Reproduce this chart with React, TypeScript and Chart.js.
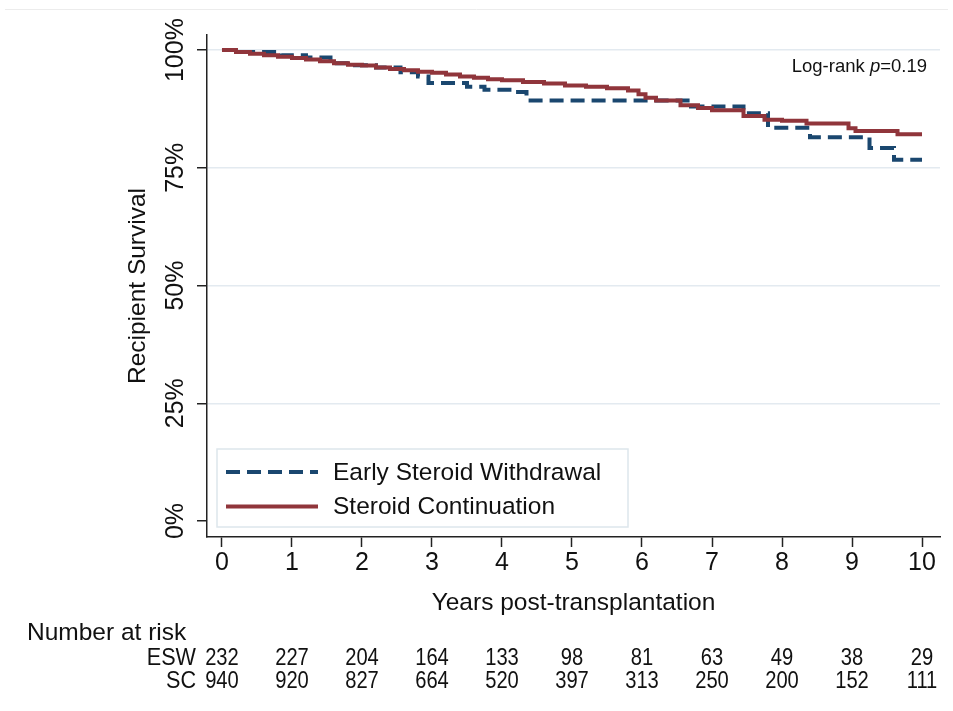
import React, { useEffect, useRef } from 'react';
import { Chart, registerables } from 'chart.js';

Chart.register(...registerables);

// ---- data ----
const seriesLabels = ['Early Steroid Withdrawal', 'Steroid Continuation'];
const eswTimes = [0, 0.25, 0.85, 1.2, 1.55, 1.9, 2.2, 2.55, 2.8, 2.95, 3.5, 3.75, 4.2, 4.35, 6.7, 7.45, 7.8, 8.4, 9.25, 9.6, 10.0];
const eswSurvival = [100, 99.6, 98.9, 98.4, 97.2, 96.8, 96.3, 95.3, 94.4, 93.0, 92.2, 91.6, 91.1, 89.3, 88.0, 86.6, 83.5, 81.5, 79.2, 76.7, 76.7];
const scTimes = [0, 0.2, 0.4, 0.6, 0.8, 1.0, 1.2, 1.4, 1.6, 1.8, 2.0, 2.2, 2.4, 2.6, 2.8, 3.0, 3.2, 3.4, 3.6, 3.8, 4.0, 4.3, 4.6, 4.9, 5.2, 5.5, 5.8, 5.95, 6.05, 6.2, 6.55, 6.8, 7.0, 7.45, 7.75, 8.0, 8.35, 8.95, 9.05, 9.65, 10.0];
const scSurvival = [100, 99.6, 99.2, 98.9, 98.6, 98.3, 98.0, 97.6, 97.2, 96.9, 96.7, 96.3, 96.0, 95.7, 95.4, 95.2, 94.8, 94.4, 94.1, 93.8, 93.6, 93.2, 92.9, 92.5, 92.2, 91.9, 91.4, 90.6, 89.9, 89.3, 88.3, 87.7, 87.2, 86.0, 85.2, 85.0, 84.4, 83.4, 82.8, 82.1, 82.1];
const xTickValues = [0, 1, 2, 3, 4, 5, 6, 7, 8, 9, 10];
const yTickValues = [0, 25, 50, 75, 100];
const riskYears = [0, 1, 2, 3, 4, 5, 6, 7, 8, 9, 10];
const riskRowLabels = ['ESW', 'SC'];
const eswAtRisk = [232, 227, 204, 164, 133, 98, 81, 63, 49, 38, 29];
const scAtRisk = [940, 920, 827, 664, 520, 397, 313, 250, 200, 152, 111];
const pValue = '0.19';

const FONT = "'Liberation Sans', Arial, Helvetica, sans-serif";
const INK = '#111111';
const AXIS = '#222222';
const BLUE = '#1a476f';
const RED = '#90353b';

export default function App() {
  const ref = useRef<HTMLCanvasElement>(null);

  useEffect(() => {
    document.body.style.margin = '0';
    const canvas = ref.current;
    if (!canvas) return;

    const extras = {
      id: 'kmExtras',
      beforeDraw(chart: any) {
        const ctx = chart.ctx;
        ctx.save();
        ctx.strokeStyle = '#ececec';
        ctx.lineWidth = 1;
        ctx.beginPath();
        ctx.moveTo(5, 9.5);
        ctx.lineTo(chart.width - 5, 9.5);
        ctx.stroke();
        ctx.restore();
      },
      afterDraw(chart: any) {
        const ctx = chart.ctx;
        const area = chart.chartArea;
        const xs = chart.scales.x;

        // legend box inside plot
        const boxL = area.left + 10;
        const boxB = area.bottom - 10;
        const boxW = 411;
        const boxH = 78;
        const boxT = boxB - boxH;
        ctx.save();
        ctx.fillStyle = '#ffffff';
        ctx.fillRect(boxL, boxT, boxW, boxH);
        ctx.strokeStyle = '#dde6ec';
        ctx.lineWidth = 1.5;
        ctx.strokeRect(boxL, boxT, boxW, boxH);
        chart.data.datasets.forEach((ds: any, i: number) => {
          const y = boxT + 23 + i * 34.5;
          ctx.save();
          ctx.strokeStyle = ds.borderColor;
          ctx.lineWidth = ds.borderWidth;
          ctx.setLineDash(ds.borderDash || []);
          ctx.lineCap = 'butt';
          ctx.beginPath();
          ctx.moveTo(boxL + 9, y);
          ctx.lineTo(boxL + 101, y);
          ctx.stroke();
          ctx.restore();
          ctx.fillStyle = INK;
          ctx.font = `24.5px ${FONT}`;
          ctx.textAlign = 'left';
          ctx.textBaseline = 'middle';
          ctx.fillText(ds.label, boxL + 116, y + 1);
        });
        ctx.restore();

        // log-rank annotation
        ctx.save();
        ctx.fillStyle = INK;
        ctx.textBaseline = 'alphabetic';
        ctx.textAlign = 'left';
        const normal = `18.5px ${FONT}`;
        const italic = `italic 18.5px ${FONT}`;
        const part1 = 'Log-rank ';
        const part2 = 'p';
        const part3 = '=' + pValue;
        ctx.font = normal;
        const w1 = ctx.measureText(part1).width;
        const w3 = ctx.measureText(part3).width;
        ctx.font = italic;
        const w2 = ctx.measureText(part2).width;
        const right = area.right - 13;
        const by = area.top + 37;
        let x = right - (w1 + w2 + w3);
        ctx.font = normal;
        ctx.fillText(part1, x, by);
        x += w1;
        ctx.font = italic;
        ctx.fillText(part2, x, by);
        x += w2;
        ctx.font = normal;
        ctx.fillText(part3, x, by);
        ctx.restore();

        // number at risk table
        ctx.save();
        ctx.fillStyle = INK;
        ctx.font = `24.5px ${FONT}`;
        ctx.textAlign = 'left';
        ctx.textBaseline = 'middle';
        ctx.fillText('Number at risk', 27, 633);
        const rows = [eswAtRisk, scAtRisk];
        const rowY = [658, 681];
        ctx.font = `24px ${FONT}`;
        rows.forEach((vals, r) => {
          const y = rowY[r];
          ctx.save();
          ctx.translate(196, y);
          ctx.scale(0.9, 1);
          ctx.textAlign = 'right';
          ctx.fillText(riskRowLabels[r], 0, 0);
          ctx.restore();
          vals.forEach((v, k) => {
            const px = xs.getPixelForValue(riskYears[k]);
            ctx.save();
            ctx.translate(px, y);
            ctx.scale(0.84, 1);
            ctx.textAlign = 'center';
            ctx.fillText(String(v), 0, 0);
            ctx.restore();
          });
        });
        ctx.restore();
      },
    };

    const chart = new Chart(canvas, {
      type: 'line',
      data: {
        datasets: [
          {
            label: seriesLabels[0],
            data: eswTimes.map((t, i) => ({ x: t, y: eswSurvival[i] })),
            borderColor: BLUE,
            backgroundColor: BLUE,
            borderWidth: 4,
            borderDash: [14, 7],
            borderCapStyle: 'butt',
            stepped: 'before',
            pointRadius: 0,
            fill: false,
            order: 1,
          },
          {
            label: seriesLabels[1],
            data: scTimes.map((t, i) => ({ x: t, y: scSurvival[i] })),
            borderColor: RED,
            backgroundColor: RED,
            borderWidth: 4,
            stepped: 'before',
            pointRadius: 0,
            fill: false,
            order: 0,
          },
        ],
      },
      options: {
        responsive: false,
        animation: false,
        devicePixelRatio: 1,
        layout: { padding: { left: 0, top: 35, right: 13, bottom: 93 } },
        plugins: {
          legend: { display: false },
          tooltip: { enabled: false },
        },
        scales: {
          x: {
            type: 'linear',
            min: -0.214,
            max: 10.257,
            afterBuildTicks: (s: any) => {
              s.ticks = xTickValues.map((v) => ({ value: v }));
            },
            afterFit: (s: any) => {
              s.height = 81;
            },
            border: { display: true, color: AXIS, width: 1.5 },
            grid: {
              drawOnChartArea: false,
              drawTicks: true,
              tickLength: 10,
              tickColor: AXIS,
              tickWidth: 1.5,
            },
            ticks: {
              color: INK,
              font: { family: FONT, size: 25 },
              padding: 1,
              maxRotation: 0,
              autoSkip: false,
            },
            title: {
              display: true,
              text: 'Years post-transplantation',
              color: INK,
              font: { family: FONT, size: 24.5 },
              padding: { top: 0, bottom: 0 },
            },
          },
          y: {
            type: 'linear',
            min: -3.4,
            max: 103.2,
            afterBuildTicks: (s: any) => {
              s.ticks = yTickValues.map((v) => ({ value: v }));
            },
            afterFit: (s: any) => {
              s.width = 207;
            },
            border: { display: true, color: AXIS, width: 1.5 },
            grid: {
              color: (c: any) => (c.tick && c.tick.value === 0 ? 'rgba(0,0,0,0)' : '#e3eaf0'),
              lineWidth: 1.5,
              drawTicks: true,
              tickLength: 10,
              tickColor: AXIS,
              tickWidth: 1.5,
            },
            ticks: {
              color: INK,
              font: { family: FONT, size: 25 },
              minRotation: 90,
              maxRotation: 90,
              crossAlign: 'center',
              padding: -11.5,
              autoSkip: false,
              callback: (v: any) => `${v}%`,
            },
            title: {
              display: true,
              text: 'Recipient Survival',
              color: INK,
              font: { family: FONT, size: 24.5 },
              padding: { top: 123.3, bottom: 0 },
            },
          },
        },
      },
      plugins: [extras],
    } as any);

    return () => chart.destroy();
  }, []);

  return <canvas ref={ref} width={953} height={711} style={{ display: 'block' }} />;
}
